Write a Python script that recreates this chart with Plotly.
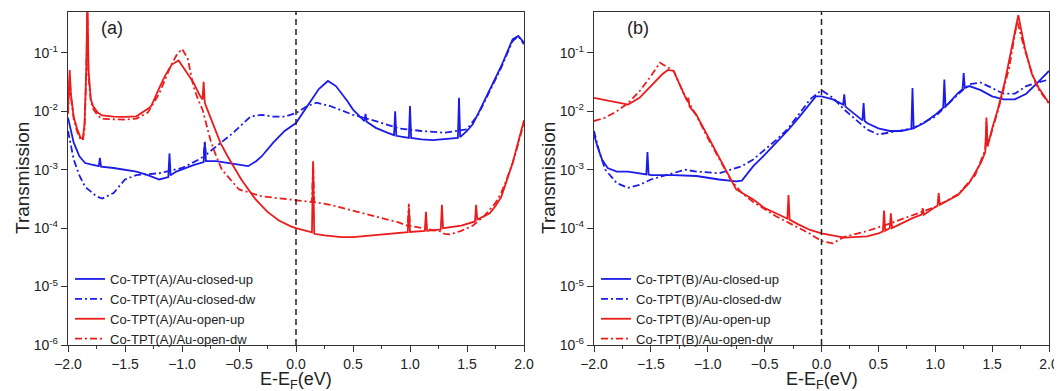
import plotly.graph_objects as go

# ---------------- data (E - E_F in eV, transmission) ----------------
# Panel (a)  Co-TPT(A)/Au
a_closed_up_E = [-2.0, -1.97, -1.95, -1.9, -1.85, -1.8, -1.73, -1.72, -1.71, -1.6, -1.5, -1.4, -1.3, -1.2,
                 -1.12, -1.11, -1.10, -1.05, -0.9, -0.81, -0.8, -0.79, -0.7, -0.6, -0.5, -0.42, -0.35, -0.3,
                 -0.2, -0.1, 0.0, 0.1, 0.2, 0.28, 0.35, 0.45, 0.5, 0.6, 0.61, 0.62, 0.7, 0.8, 0.86, 0.87, 0.88,
                 0.99, 1.0, 1.01, 1.1, 1.2, 1.3, 1.42, 1.43, 1.44, 1.5, 1.55, 1.6, 1.7, 1.8, 1.9, 1.95, 2.0]
a_closed_up_T = [0.0078, 0.004, 0.0029, 0.0017, 0.0013, 0.00123, 0.00115, 0.0016, 0.00113, 0.00107, 0.001,
                 0.00093, 0.00081, 0.00068, 0.00075, 0.0019, 0.0008, 0.00093, 0.0012, 0.00135, 0.003, 0.0014,
                 0.0014, 0.0013, 0.0012, 0.00115, 0.0014, 0.0017, 0.0029, 0.0046, 0.0063, 0.0123, 0.024, 0.033,
                 0.027, 0.015, 0.0107, 0.0068, 0.009, 0.0066, 0.0052, 0.0043, 0.0039, 0.01, 0.0038, 0.0035,
                 0.0123, 0.0035, 0.0033, 0.0032, 0.0033, 0.0035, 0.017, 0.0036, 0.0046, 0.006, 0.0093, 0.023,
                 0.059, 0.17, 0.195, 0.15]

a_closed_dw_E = [-2.0, -1.95, -1.9, -1.85, -1.75, -1.7, -1.6, -1.5, -1.4, -1.2, -1.0, -0.85, -0.81, -0.8, -0.79,
                 -0.7, -0.55, -0.4, -0.3, -0.2, -0.1, 0.0, 0.1, 0.18, 0.3, 0.5, 0.7, 0.9, 1.1, 1.3, 1.5, 1.6,
                 1.7, 1.8, 1.9, 1.95, 2.0]
a_closed_dw_T = [0.0046, 0.0015, 0.0008, 0.00051, 0.00035, 0.00032, 0.0004, 0.00068, 0.00081, 0.00087, 0.00107,
                 0.0015, 0.0017, 0.0029, 0.0018, 0.0025, 0.0043, 0.0081, 0.0087, 0.0081, 0.0081, 0.0093, 0.0123,
                 0.014, 0.0123, 0.0087, 0.0068, 0.0051, 0.0046, 0.0043, 0.0049, 0.0089, 0.022, 0.056, 0.16,
                 0.19, 0.14]

a_open_up_E = [-2.0, -1.99, -1.985, -1.975, -1.95, -1.92, -1.89, -1.87, -1.855, -1.84, -1.83, -1.82, -1.8,
               -1.78, -1.74, -1.7, -1.6, -1.5, -1.4, -1.3, -1.27, -1.2, -1.15, -1.09, -1.03, -0.97, -0.9,
               -0.84, -0.82, -0.81, -0.8, -0.78, -0.72, -0.66, -0.6, -0.48, -0.36, -0.25, -0.15, -0.05, 0.0,
               0.1, 0.14, 0.15, 0.16, 0.25, 0.4, 0.5, 0.7, 0.9, 0.98, 0.99, 1.0, 1.13, 1.14, 1.15, 1.27, 1.28,
               1.29, 1.45, 1.57, 1.58, 1.59, 1.7, 1.75, 1.8, 1.85, 1.9, 1.95, 2.0]
a_open_up_T = [0.011, 0.03, 0.051, 0.02, 0.008, 0.005, 0.0035, 0.0034, 0.006, 0.05, 0.9, 0.05, 0.016, 0.0123,
               0.0095, 0.0085, 0.0081, 0.008, 0.0082, 0.011, 0.0123, 0.025, 0.04, 0.063, 0.074, 0.05, 0.031,
               0.018, 0.016, 0.032, 0.014, 0.011, 0.0055, 0.0028, 0.0017, 0.00068, 0.00032, 0.00019, 0.000135,
               0.000108, 0.0001, 0.000088, 0.000085, 0.0014, 0.00008, 0.000075, 0.00007, 0.00007, 0.000075,
               0.000082, 0.000085, 0.00022, 0.000086, 0.00009, 0.00019, 0.00009, 0.000095, 0.00025, 0.0001,
               0.00011, 0.00013, 0.00025, 0.00014, 0.00018, 0.00024, 0.00034, 0.00065, 0.0013, 0.003, 0.007]

a_open_dw_E = [-2.0, -1.99, -1.985, -1.975, -1.95, -1.92, -1.89, -1.87, -1.855, -1.84, -1.83, -1.82, -1.8,
               -1.78, -1.74, -1.7, -1.6, -1.5, -1.4, -1.3, -1.2, -1.1, -1.05, -1.0, -0.95, -0.9, -0.86, -0.82,
               -0.75, -0.7, -0.65, -0.5, -0.3, -0.1, 0.0, 0.14, 0.15, 0.16, 0.3, 0.5, 0.7, 0.9, 0.98, 0.99,
               1.0, 1.1, 1.2, 1.27, 1.3, 1.35, 1.45, 1.55, 1.65, 1.75, 1.8, 1.85, 1.9, 1.95, 2.0]
a_open_dw_T = [0.009, 0.025, 0.04, 0.018, 0.0075, 0.0045, 0.0033, 0.0032, 0.005, 0.04, 0.5, 0.04, 0.015,
               0.011, 0.0085, 0.0074, 0.0072, 0.0072, 0.0075, 0.0095, 0.02, 0.059, 0.09, 0.117, 0.08, 0.027,
               0.016, 0.0107, 0.0032, 0.0017, 0.001, 0.00046, 0.00035, 0.00032, 0.0003, 0.00028, 0.0013,
               0.00028, 0.00025, 0.0002, 0.00016, 0.000125, 0.00011, 0.00026, 0.00011, 0.0001, 0.000092,
               0.000088, 0.00008, 0.000078, 0.00009, 0.00011, 0.00016, 0.00027, 0.0004, 0.0007, 0.0013,
               0.0028, 0.0065]

# Panel (b)  Co-TPT(B)/Au
b_closed_up_E = [-2.0, -1.97, -1.93, -1.88, -1.8, -1.7, -1.54, -1.53, -1.52, -1.5, -1.3, -1.1, -0.9, -0.75,
                 -0.7, -0.6, -0.5, -0.4, -0.3, -0.2, -0.1, -0.05, 0.0, 0.1, 0.19, 0.2, 0.21, 0.3, 0.36, 0.37,
                 0.38, 0.4, 0.5, 0.6, 0.7, 0.79, 0.8, 0.81, 0.9, 1.0, 1.07, 1.08, 1.09, 1.2, 1.24, 1.25, 1.26,
                 1.3, 1.4, 1.5, 1.6, 1.7, 1.8, 1.9, 2.0]
b_closed_up_T = [0.004, 0.0025, 0.0015, 0.00107, 0.00093, 0.00093, 0.00083, 0.002, 0.00083, 0.00081, 0.00081,
                 0.00078, 0.00068, 0.00063, 0.00065, 0.00115, 0.0018, 0.0029, 0.0046, 0.0078, 0.0138, 0.018,
                 0.018, 0.016, 0.013, 0.0195, 0.012, 0.0087, 0.007, 0.0138, 0.0068, 0.0063, 0.0051, 0.0046,
                 0.0046, 0.005, 0.025, 0.0051, 0.0063, 0.0087, 0.0115, 0.035, 0.012, 0.0204, 0.024, 0.045,
                 0.025, 0.027, 0.023, 0.018, 0.016, 0.016, 0.02, 0.031, 0.049]

b_closed_dw_E = [-2.0, -1.95, -1.9, -1.8, -1.7, -1.6, -1.5, -1.4, -1.3, -1.2, -1.1, -0.9, -0.8, -0.7, -0.6,
                 -0.5, -0.4, -0.3, -0.2, -0.1, 0.0, 0.1, 0.2, 0.3, 0.4, 0.5, 0.6, 0.8, 1.0, 1.2, 1.3, 1.4,
                 1.5, 1.6, 1.7, 1.8, 1.9, 2.0]
b_closed_dw_T = [0.0046, 0.0019, 0.001, 0.00059, 0.00049, 0.00055, 0.00068, 0.00078, 0.00087, 0.001, 0.00093,
                 0.00087, 0.001, 0.00115, 0.0015, 0.0022, 0.0032, 0.0049, 0.0087, 0.016, 0.023, 0.017, 0.0107,
                 0.0072, 0.0049, 0.004, 0.0043, 0.0051, 0.0081, 0.0195, 0.029, 0.031, 0.025, 0.02, 0.02, 0.027,
                 0.031, 0.035]

b_open_up_E = [-2.0, -1.85, -1.7, -1.6, -1.5, -1.4, -1.35, -1.3, -1.2, -1.18, -1.17, -1.16, -1.1, -1.0, -0.9,
               -0.8, -0.75, -0.6, -0.5, -0.4, -0.3, -0.29, -0.28, -0.2, -0.1, 0.0, 0.2, 0.4, 0.5, 0.54, 0.55,
               0.56, 0.6, 0.61, 0.62, 0.8, 0.88, 0.89, 0.9, 1.0, 1.02, 1.03, 1.04, 1.2, 1.3, 1.4, 1.44, 1.45,
               1.46, 1.5, 1.55, 1.61, 1.67, 1.73, 1.79, 1.85, 1.91, 2.0]
b_open_up_T = [0.017, 0.015, 0.013, 0.017, 0.027, 0.043, 0.051, 0.049, 0.018, 0.015, 0.017, 0.012, 0.0087,
               0.0037, 0.0016, 0.00068, 0.00046, 0.00031, 0.00022, 0.00018, 0.000145, 0.00037, 0.00014,
               0.000115, 0.000093, 0.000081, 0.000069, 0.000072, 0.000081, 0.000088, 0.0002, 0.00009, 0.0001,
               0.00018, 0.0001, 0.000148, 0.00017, 0.00022, 0.00017, 0.00023, 0.00024, 0.0004, 0.00025,
               0.00037, 0.0006, 0.0013, 0.002, 0.0078, 0.0025, 0.005, 0.0107, 0.031, 0.115, 0.44, 0.115,
               0.043, 0.025, 0.0138]

b_open_dw_E = [-2.0, -1.9, -1.8, -1.7, -1.6, -1.5, -1.42, -1.3, -1.2, -1.1, -1.0, -0.9, -0.8, -0.7, -0.6,
               -0.4, -0.3, -0.2, -0.1, 0.0, 0.1, 0.2, 0.4, 0.6, 0.8, 1.0, 1.2, 1.35, 1.44, 1.45, 1.46, 1.55,
               1.65, 1.72, 1.78, 1.85, 1.9, 2.0]
b_open_dw_T = [0.0068, 0.0078, 0.01, 0.0138, 0.022, 0.04, 0.068, 0.049, 0.018, 0.0085, 0.0035, 0.0015,
               0.00068, 0.0004, 0.00028, 0.00016, 0.000126, 0.0001, 0.00008, 0.00006, 0.000055, 0.000071,
               0.000089, 0.00012, 0.000166, 0.00023, 0.00038, 0.0008, 0.0022, 0.0065, 0.0026, 0.01, 0.056,
               0.35, 0.126, 0.045, 0.025, 0.0135]

series_names_a = ["Co-TPT(A)/Au-closed-up", "Co-TPT(A)/Au-closed-dw", "Co-TPT(A)/Au-open-up", "Co-TPT(A)/Au-open-dw"]
series_names_b = ["Co-TPT(B)/Au-closed-up", "Co-TPT(B)/Au-closed-dw", "Co-TPT(B)/Au-open-up", "Co-TPT(B)/Au-open-dw"]
panel_labels = ["(a)", "(b)"]
x_tick_vals = [-2.0, -1.5, -1.0, -0.5, 0.0, 0.5, 1.0, 1.5, 2.0]
y_tick_vals = [1e-6, 1e-5, 1e-4, 1e-3, 1e-2, 1e-1]
y_tick_text = ["10<sup>-6</sup>", "10<sup>-5</sup>", "10<sup>-4</sup>", "10<sup>-3</sup>", "10<sup>-2</sup>", "10<sup>-1</sup>"]

# ---------------- styling ----------------
BLUE = "#1c1ce8"
RED = "#ec1c1c"
DASHDOT = "7px,3px,2px,3px"
FONT = "Liberation Sans, Arial, sans-serif"
OFF = 8                      # page body margin of the browser
W, H = 1062 - OFF, 391 - OFF  # figure size so the page fits the window


def px_x(p):  # reference pixel x -> paper fraction
    return (p - OFF) / W


def px_y(p):  # reference pixel y (from top) -> paper fraction
    return 1 - (p - OFF) / H


fig = go.Figure()


def add(E, T, name, color, dash, xa, ya, leg):
    fig.add_trace(go.Scatter(x=E, y=T, name=name, mode="lines", xaxis=xa, yaxis=ya, legend=leg,
                             line=dict(color=color, width=1.8, dash=dash)))


add(a_closed_up_E, a_closed_up_T, series_names_a[0], BLUE, "solid", "x", "y", "legend")
add(a_closed_dw_E, a_closed_dw_T, series_names_a[1], BLUE, DASHDOT, "x", "y", "legend")
add(a_open_up_E, a_open_up_T, series_names_a[2], RED, "solid", "x", "y", "legend")
add(a_open_dw_E, a_open_dw_T, series_names_a[3], RED, DASHDOT, "x", "y", "legend")
add(b_closed_up_E, b_closed_up_T, series_names_b[0], BLUE, "solid", "x2", "y2", "legend2")
add(b_closed_dw_E, b_closed_dw_T, series_names_b[1], BLUE, DASHDOT, "x2", "y2", "legend2")
add(b_open_up_E, b_open_up_T, series_names_b[2], RED, "solid", "x2", "y2", "legend2")
add(b_open_dw_E, b_open_dw_T, series_names_b[3], RED, DASHDOT, "x2", "y2", "legend2")

ax_left = [68, 594]
ax_right = [524, 1049]
plot_top, plot_bottom = 12, 345
ydom = [px_y(plot_bottom), px_y(plot_top)]

common_x = dict(range=[-2.0, 2.0], tickvals=x_tick_vals, tickformat=".1f", ticks="outside", ticklen=6,
                tickwidth=1.2, tickcolor="#333", showline=True, linecolor="#333", linewidth=1.3, mirror=True,
                showgrid=False, zeroline=False, automargin=False,
                tickfont=dict(family=FONT, size=14, color="#222"),
                minor=dict(dtick=0.25, ticks="outside", ticklen=3, tickcolor="#333", tickwidth=1.2))
common_y = dict(type="log", range=[-6, -0.301], tickvals=y_tick_vals, ticktext=y_tick_text, ticks="outside",
                ticklen=6, tickwidth=1.2, tickcolor="#333", showline=True, linecolor="#333", linewidth=1.3,
                mirror=True, showgrid=False, zeroline=False, automargin=False,
                tickfont=dict(family=FONT, size=14, color="#222"))

leg_common = dict(xanchor="left", yanchor="top", bgcolor="rgba(0,0,0,0)",
                  font=dict(family=FONT, size=13, color="#222"), itemwidth=30, tracegroupgap=0)

fig.update_layout(
    template="none",
    width=W, height=H, margin=dict(l=0, r=0, t=0, b=0, autoexpand=False),
    paper_bgcolor="white", plot_bgcolor="white",
    font=dict(family=FONT, color="#222"),
    xaxis=dict(domain=[px_x(ax_left[0]), px_x(ax_right[0])], anchor="y", **common_x),
    yaxis=dict(domain=ydom, anchor="x", **common_y),
    xaxis2=dict(domain=[px_x(ax_left[1]), px_x(ax_right[1])], anchor="y2", **common_x),
    yaxis2=dict(domain=ydom, anchor="x2", **common_y),
    legend=dict(x=px_x(ax_left[0] + 2), y=px_y(264), **leg_common),
    legend2=dict(x=px_x(ax_left[1] + 2), y=px_y(264), **leg_common),
    showlegend=True,
)

for i, (xr, yr) in enumerate([("x", "y"), ("x2", "y2")]):
    # Fermi level marker
    fig.add_shape(type="line", xref=xr, yref=yr + " domain", x0=0, x1=0, y0=0, y1=1,
                  line=dict(color="#222", width=1.5, dash="6px,4px"))
    # panel label
    fig.add_annotation(xref="paper", yref="paper", x=px_x(ax_left[i] + 44), y=px_y(28),
                       xanchor="center", yanchor="middle",
                       text=panel_labels[i], showarrow=False, font=dict(family=FONT, size=18, color="#222"))
    # axis titles
    fig.add_annotation(xref="paper", yref="paper", x=px_x((ax_left[i] + ax_right[i]) / 2), y=px_y(380),
                       xanchor="center", yanchor="middle",
                       text="E-E<sub>F</sub>(eV)", showarrow=False, font=dict(family=FONT, size=18, color="#222"))
    fig.add_annotation(xref="paper", yref="paper", x=px_x(ax_left[i] - 46), y=px_y(178),
                       xanchor="center", yanchor="middle",
                       text="Transmission", textangle=-90, showarrow=False,
                       font=dict(family=FONT, size=19, color="#222"))

fig.write_html("out.html")
